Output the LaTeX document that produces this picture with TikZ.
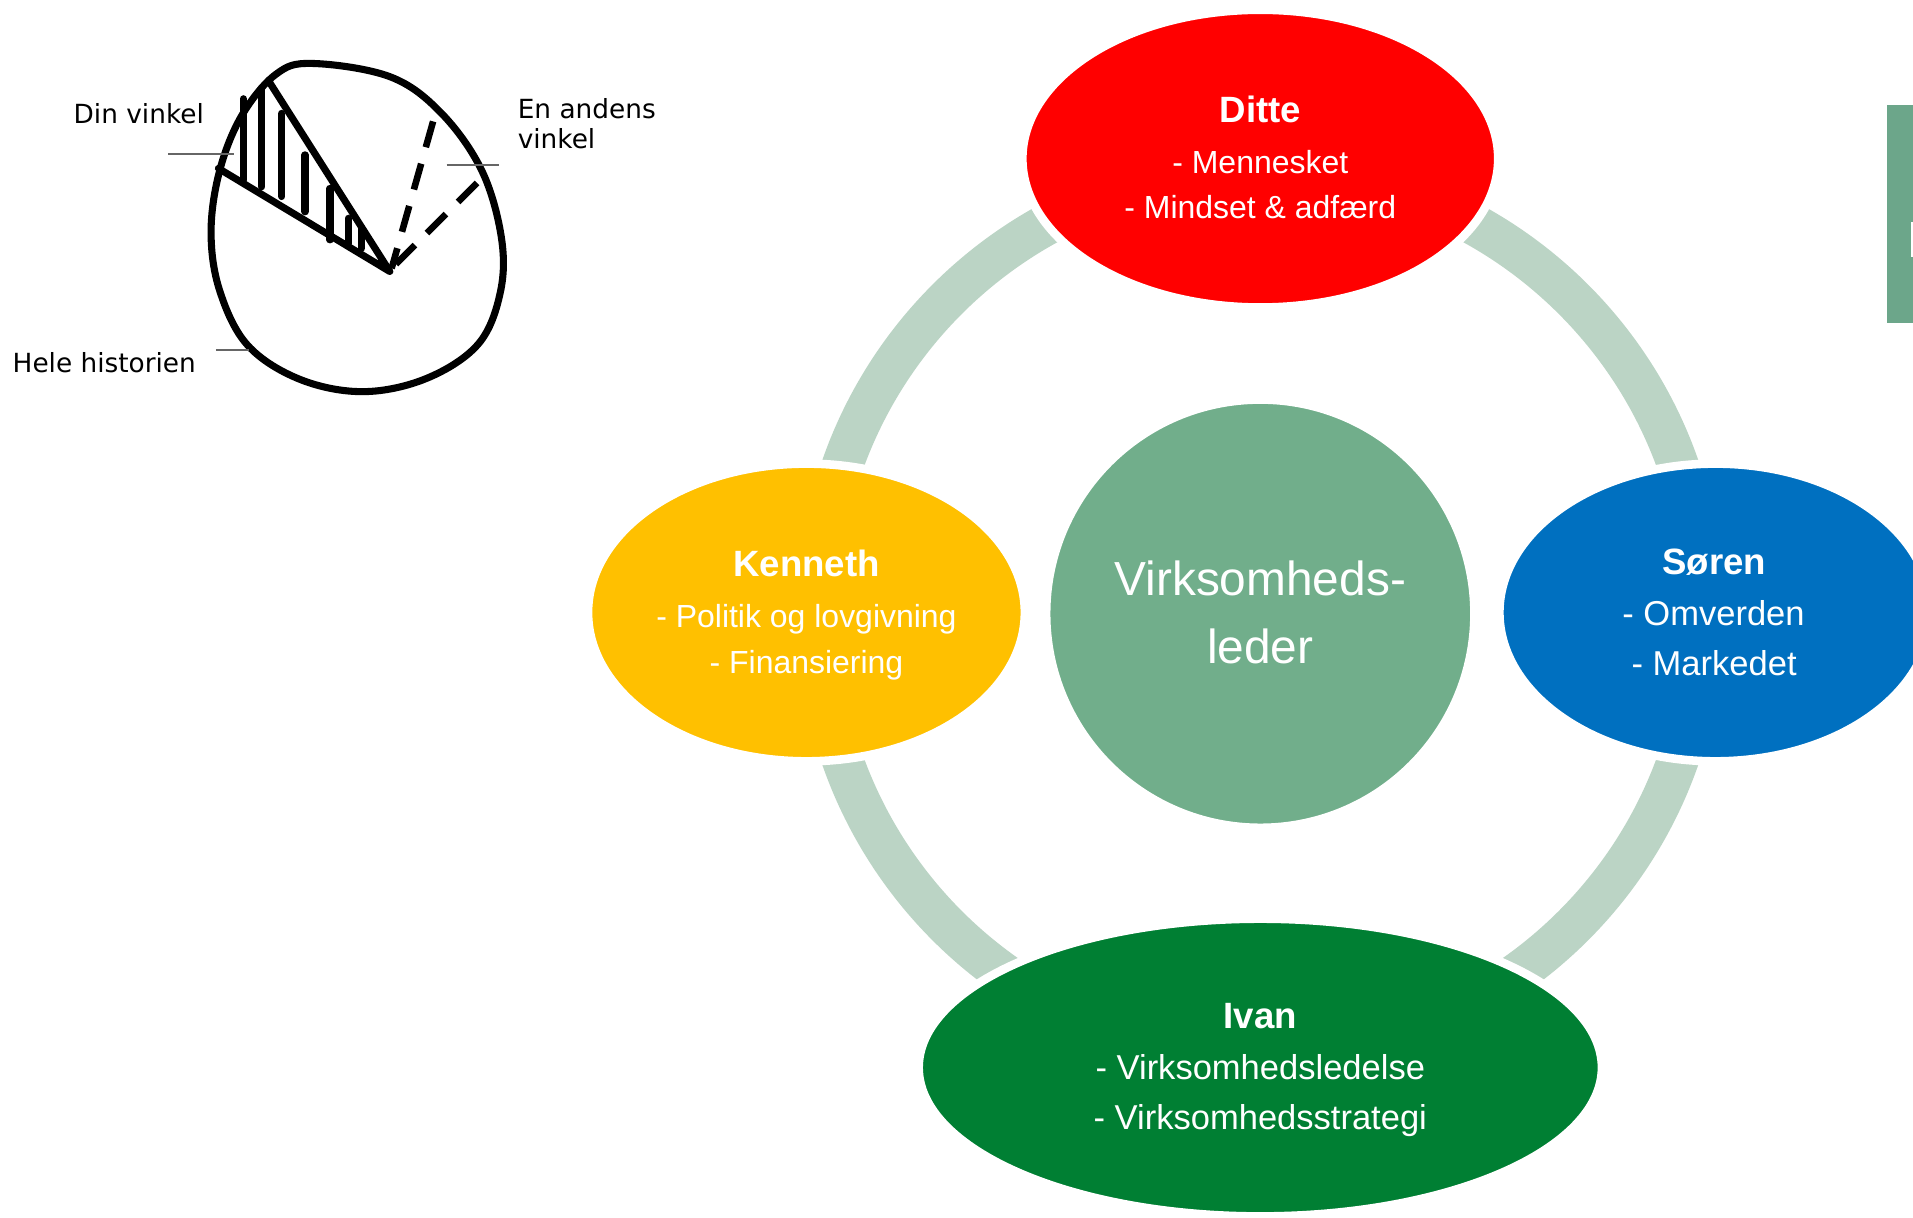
\documentclass[tikz,border=0pt]{standalone}
\usepackage{fontspec}
\setmainfont{Liberation Sans}
\newfontfamily\eggfont{DejaVu Sans}
\usetikzlibrary{shapes.geometric}
\definecolor{ditteRed}{HTML}{FF0000}
\definecolor{kenYellow}{HTML}{FFC000}
\definecolor{sorenBlue}{HTML}{0070C0}
\definecolor{ivanGreen}{HTML}{007F33}
\definecolor{centerGreen}{HTML}{71AE8B}
\definecolor{ringGreen}{HTML}{BBD4C5}
\definecolor{boxGreen}{HTML}{6CA68A}
\definecolor{leaderGray}{HTML}{666666}
\begin{document}
\begin{tikzpicture}[x=0.5pt,y=-0.5pt,
  blob/.style={ellipse, draw=white, line width=3.5pt, inner sep=0pt},
  nm/.style={anchor=base, text=white, inner sep=0pt, font=\fontsize{15}{18}\selectfont\bfseries},
  ln/.style={anchor=base, text=white, inner sep=0pt, font=\fontsize{13.1}{16}\selectfont},
  lnb/.style={anchor=base, text=white, inner sep=0pt, font=\fontsize{14.15}{17}\selectfont},
  big/.style={anchor=base, text=white, inner sep=0pt, font=\fontsize{19.6}{24}\selectfont},
  lbl/.style={anchor=base west, inner sep=0pt, font=\eggfont\fontsize{10.8}{13}\selectfont},
  eggline/.style={line width=2.9pt, line cap=round, line join=round},
  hatch/.style={line width=3pt, line cap=round},
  dashline/.style={line width=2.7pt, dash pattern=on 11pt off 7pt},
  pointer/.style={draw=leaderGray, line width=0.7pt},
]
\useasboundingbox (0,0) rectangle (1568,997.6);
\clip (0,0) rectangle (1568,997.6);

% ---------- egg sketch ----------
\draw[eggline] plot[smooth cycle, tension=0.6] coordinates {
  (256,52) (320,63) (362,93) (395,140) (411,195) (410,240) (392,282)
  (350,310) (298,321) (246,311) (203,283) (180,238) (173,190)
  (180,140) (198,95) (226,61)};
\coordinate (apex) at (319.5,222.5);
\coordinate (wtop) at (220,66);
\coordinate (wleft) at (179,138);
\draw[eggline] (wtop) -- (apex) -- (wleft);
\draw[hatch] (199.5,81) -- (199.5,147.5);
\draw[hatch] (214.5,72) -- (214.5,153);
\draw[hatch] (231,93) -- (231,161);
\draw[hatch] (250,127) -- (250,173.5);
\draw[hatch] (270.5,154.5) -- (270.5,196.5);
\draw[hatch] (285.5,179) -- (285.5,199.5);
\draw[hatch] (296.5,187) -- (296.5,203.5);
\coordinate (d1) at (355,99.5);
\coordinate (d2) at (391,150);
\coordinate (d1b) at (321,220);
\coordinate (d2b) at (321,220);
\draw[dashline] (d1) -- (d1b);
\draw[dashline] (d2) -- (d2b);
\coordinate (p1a) at (138,126.5); \coordinate (p1b) at (192,126.5);
\coordinate (p2a) at (366,135.5); \coordinate (p2b) at (409,135.5);
\coordinate (p3a) at (177,287); \coordinate (p3b) at (204,287);
\draw[pointer] (p1a) -- (p1b);
\draw[pointer] (p2a) -- (p2b);
\draw[pointer] (p3a) -- (p3b);
\node[lbl] (dinv) at (60,101) {Din vinkel};
\node[lbl] (enand) at (424,97) {En andens};
\node[lbl] (enand2) at (424,122) {vinkel};
\node[lbl] (hele) at (10,305) {Hele historien};

% ---------- cut-off box at right ----------
\fill[boxGreen] (1547,86) rectangle (1570,265);
\fill[white] (1566,182) rectangle (1570,211);

% ---------- ring ----------
\draw[ringGreen, line width=17pt] (1033,502) circle [radius=181.5pt];

% ---------- centre ----------
\node[circle, fill=centerGreen, draw=white, line width=2pt, minimum size=174pt, inner sep=0pt] (leader) at (1033,503) {};
\node[big] (leaderA) at (1033,488) {Virksomheds-};
\node[big] (leaderB) at (1033,544) {leder};

% ---------- Ditte ----------
\node[blob, fill=ditteRed, minimum width=195pt, minimum height=122pt] (ditte) at (1033,130) {};
\node[nm] (ditteN) at (1033,100.8) {Ditte};
\node[ln] (ditteA) at (1033,142.4) {- Mennesket};
\node[ln] (ditteB) at (1033,179.4) {- Mindset \& adfærd};

% ---------- Kenneth ----------
\node[blob, fill=kenYellow, minimum width=179pt, minimum height=122pt] (ken) at (661,502) {};
\node[nm] (kenN) at (661,472.8) {Kenneth};
\node[ln] (kenA) at (661,514.4) {- Politik og lovgivning};
\node[ln] (kenB) at (661,552.4) {- Finansiering};

% ---------- Søren ----------
\node[blob, fill=sorenBlue, minimum width=177pt, minimum height=122pt] (soren) at (1406,502) {};
\node[nm] (sorenN) at (1405,470.8) {Søren};
\node[lnb] (sorenA) at (1404.5,513) {- Omverden};
\node[lnb] (sorenB) at (1405,554) {- Markedet};

% ---------- Ivan ----------
\node[blob, fill=ivanGreen, minimum width=280pt, minimum height=122pt] (ivan) at (1033,875) {};
\node[nm] (ivanN) at (1033,842.8) {Ivan};
\node[lnb] (ivanA) at (1033,885) {- Virksomhedsledelse};
\node[lnb] (ivanB) at (1033,926) {- Virksomhedsstrategi};
\end{tikzpicture}
\end{document}
